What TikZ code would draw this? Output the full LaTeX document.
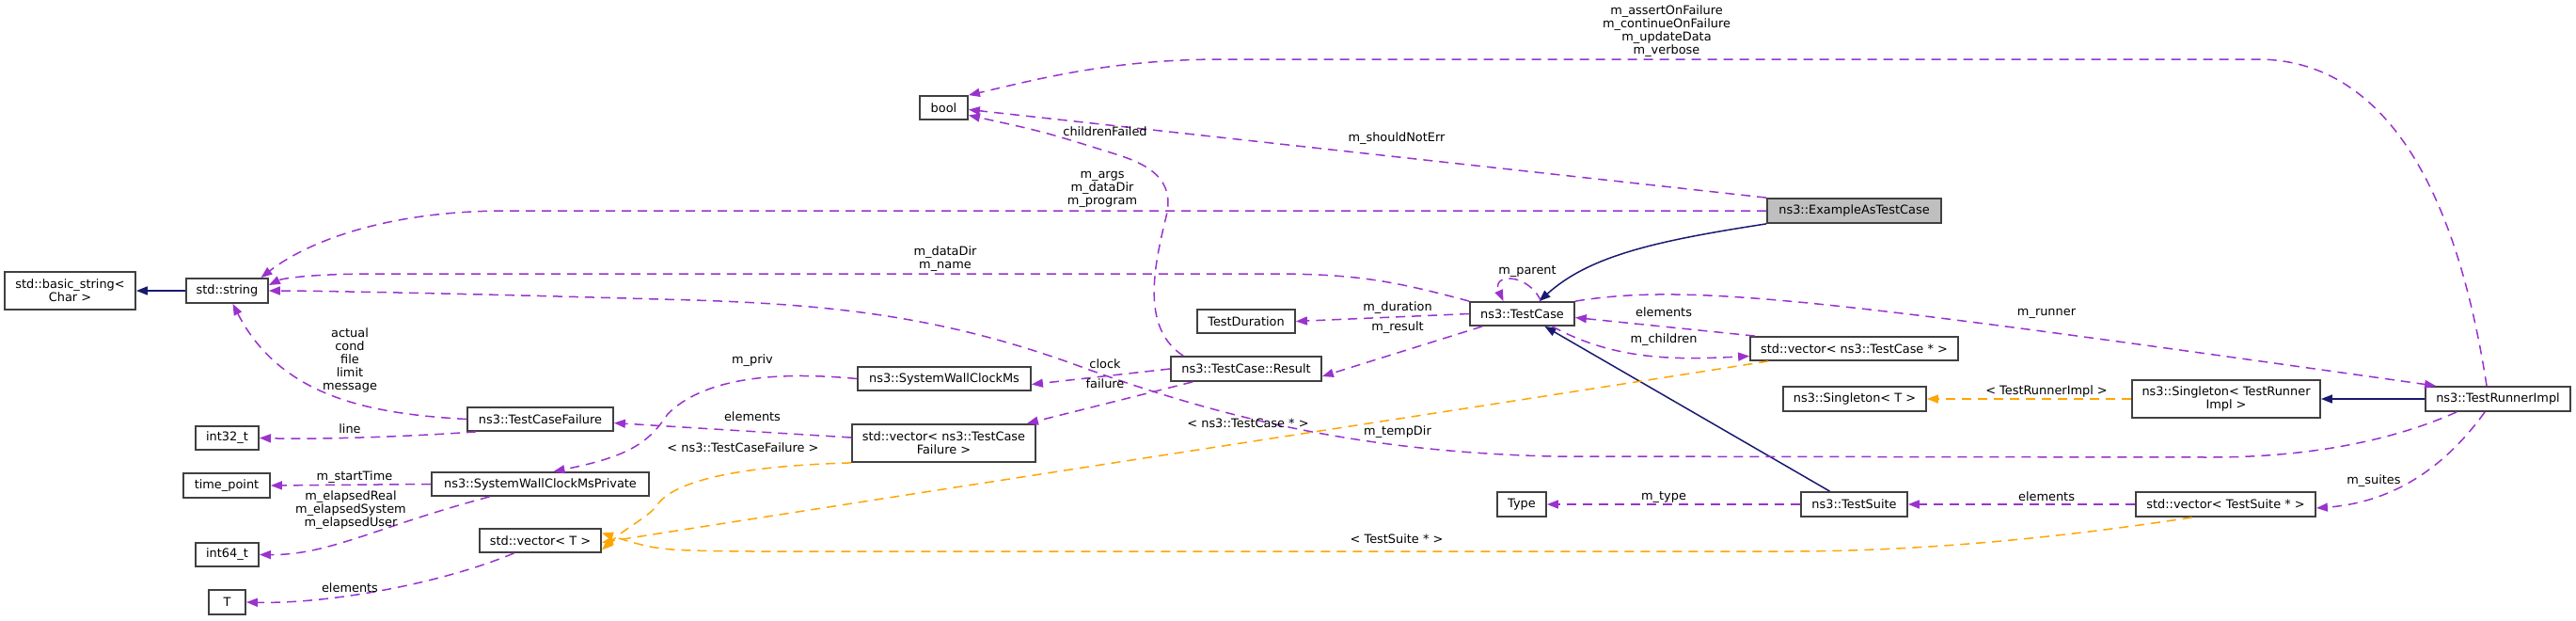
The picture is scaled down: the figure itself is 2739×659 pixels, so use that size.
\documentclass[tikz,border=0pt]{standalone}
\usepackage{fontspec}
\setmainfont{DejaVu Sans}
\usetikzlibrary{arrows.meta}

\definecolor{mem}{HTML}{9A32CD}
\definecolor{tpl}{HTML}{FFA500}
\definecolor{inh}{HTML}{191970}

\tikzset{
  cls/.style={draw=black!75, line width=0.9pt, fill=white, inner sep=0pt, align=center,
    font=\fontsize{6.45}{7}\selectfont},
  lbl/.style={inner sep=0pt, align=center, font=\fontsize{6.45}{7}\selectfont},
  member/.style={draw=mem, line width=0.75pt, dash pattern=on 5pt off 3.5pt,
    -{Triangle[length=6pt,width=4.5pt]}},
  templ/.style={draw=tpl, line width=0.75pt, dash pattern=on 5pt off 3.5pt,
    -{Triangle[length=6pt,width=4.5pt]}},
  inherit/.style={draw=inh, line width=0.75pt, -{Triangle[length=6pt,width=4.5pt]}},
}

\begin{document}
\begin{tikzpicture}[x=0.5pt, y=-0.5pt]

\useasboundingbox (0,0) rectangle (2739,659);

% classes
\node[cls, minimum width=69.5pt, minimum height=20pt] (bstr) at (74.5,309) {std::basic\_string\textless\\Char \textgreater};
\node[cls, minimum width=43.5pt, minimum height=13pt] (str) at (241.5,309) {std::string};
\node[cls, minimum width=33.5pt, minimum height=12.5pt] (i32) at (241.5,465.5) {int32\_t};
\node[cls, minimum width=46pt, minimum height=13pt] (tp) at (241,516) {time\_point};
\node[cls, minimum width=33.5pt, minimum height=12.5pt] (i64) at (241.5,589.5) {int64\_t};
\node[cls, minimum width=19.5pt, minimum height=13pt] (T) at (241.5,640) {T};
\node[cls, minimum width=77.5pt, minimum height=12.5pt] (tcf) at (574.5,445.5) {ns3::TestCaseFailure};
\node[cls, minimum width=115.5pt, minimum height=12.5pt] (swcp) at (574.5,514.5) {ns3::SystemWallClockMsPrivate};
\node[cls, minimum width=64.5pt, minimum height=12.5pt] (vecT) at (574.5,574.5) {std::vector\textless{} T \textgreater};
\node[cls, minimum width=25.5pt, minimum height=12.5pt] (bool) at (1003.5,114.5) {bool};
\node[cls, minimum width=92pt, minimum height=12.5pt] (swc) at (1004,402.5) {ns3::SystemWallClockMs};
\node[cls, minimum width=97.5pt, minimum height=20pt] (vtcf) at (1003.5,471) {std::vector\textless{} ns3::TestCase\\Failure \textgreater};
\node[cls, minimum width=52pt, minimum height=12.5pt] (dur) at (1325,341.5) {TestDuration};
\node[cls, minimum width=80pt, minimum height=13pt] (res) at (1325,392) {ns3::TestCase::Result};
\node[cls, minimum width=55.5pt, minimum height=12.5pt] (tc) at (1618.5,333.5) {ns3::TestCase};
\node[cls, minimum width=26pt, minimum height=13pt] (type) at (1618,536) {Type};
\node[cls, minimum width=92.5pt, minimum height=13pt, fill=black!25] (eatc) at (1971.5,224) {ns3::ExampleAsTestCase};
\node[cls, minimum width=110.5pt, minimum height=12.5pt] (vtc) at (1971.5,370.5) {std::vector\textless{} ns3::TestCase * \textgreater};
\node[cls, minimum width=76pt, minimum height=13pt] (sgT) at (1972,424) {ns3::Singleton\textless{} T \textgreater};
\node[cls, minimum width=56.5pt, minimum height=13pt] (ts) at (1971.5,536) {ns3::TestSuite};
\node[cls, minimum width=100pt, minimum height=20pt] (sgR) at (2367,424) {ns3::Singleton\textless{} TestRunner\\Impl \textgreater};
\node[cls, minimum width=95.5pt, minimum height=13pt] (vts) at (2366.5,536) {std::vector\textless{} TestSuite * \textgreater};
\node[cls, minimum width=77pt, minimum height=13pt] (tri) at (2656,424) {ns3::TestRunnerImpl};

% inheritance
\draw[inherit] (str) -- (bstr);
\draw[inherit] (eatc.south west) .. controls (1760,256) and (1690,272) .. ([xshift=9pt]tc.north);
\draw[inherit] ([xshift=-13pt]ts.north) -- ([xshift=12pt]tc.south);
\draw[inherit] (tri) -- (sgR);

% members
\draw[member] (eatc.west) -- (540,224) .. controls (400,224) and (320,262) .. ([xshift=18pt]str.north);
\draw[member] (tc.north west) .. controls (1480,298) and (1440,291) .. (1350,291) -- (400,291) .. controls (330,291) and (300,296) .. ([yshift=3pt]str.east);
\draw[member] ([xshift=-22pt]tri.south) .. controls (2540,470) and (2450,486) .. (2350,486) -- (1650,485) .. controls (1450,480) and (1300,445) .. (1150,390) .. controls (1000,335) and (880,322) .. (700,318) .. controls (500,312) and (330,309) .. (str.east);
\draw[member] (eatc.north west) -- ([yshift=-1pt]bool.east);
\draw[member] ([xshift=-6pt]tri.north) .. controls (2610,190) and (2530,63) .. (2400,63) -- (1300,63) .. controls (1180,63) and (1100,85) .. (bool.north east);
\draw[member] ([xshift=7pt]res.north west) .. controls (1215,350) and (1225,290) .. (1240,230) .. controls (1250,190) and (1220,175) .. (1190,165) .. controls (1110,140) .. ([yshift=-4pt]bool.east);
\draw[member] (tc.west) -- (dur.east);
\draw[member] ([xshift=7pt]tc.south west) -- ([yshift=-4pt]res.east);
\draw[member] ([xshift=10pt]tc.north) .. controls (1625,290) and (1585,290) .. ([xshift=-10pt]tc.north);
\draw[member] ([xshift=3pt]vtc.north west) -- ([yshift=-2pt]tc.east);
\draw[member] ([xshift=16pt]tc.south) .. controls (1720,385) and (1790,382) .. ([yshift=-4pt]vtc.west);
\draw[member] (tc.north east) .. controls (1800,300) and (1950,320) .. ([xshift=-33pt]tri.north);
\draw[member] (ts.west) -- (type.east);
\draw[member] (vts.west) -- (ts.east);
\draw[member] ([xshift=-7pt]tri.south) .. controls (2590,510) and (2530,535) .. ([yshift=-2pt]vts.east);
\draw[member] (res.west) -- ([yshift=-3pt]swc.east);
\draw[member] ([xshift=12pt]res.south west) -- ([xshift=-5pt]vtcf.north east);
\draw[member] (swc.west) .. controls (800,392) and (740,410) .. (710,440) .. controls (690,470) and (670,485) .. ([xshift=7pt]swcp.north);
\draw[member] ([yshift=3pt]vtcf.west) -- ([yshift=-2pt]tcf.east);
\draw[member] (tcf.west) .. controls (400,440) and (300,425) .. ([xshift=3pt]str.south);
\draw[member] ([xshift=5pt]tcf.south west) .. controls (420,465) and (330,467) .. (i32.east);
\draw[member] (swcp.west) -- (tp.east);
\draw[member] ([xshift=-27pt]swcp.south) .. controls (400,560) and (350,590) .. (i64.east);
\draw[member] ([xshift=-14pt]vecT.south) .. controls (470,620) and (350,642) .. (T.east);

% templates
\draw[templ] (vtcf.south west) .. controls (790,495) and (720,510) .. (700,535) .. controls (690,550) and (670,557) .. ([yshift=-5pt]vecT.east);
\draw[templ] ([xshift=10pt]vtc.south west) .. controls (1600,428) and (1000,520) .. ([yshift=-1pt]vecT.east);
\draw[templ] ([xshift=-18pt]vts.south) .. controls (2200,570) and (2050,586) .. (1900,586) -- (800,586) .. controls (700,585) .. ([yshift=4pt]vecT.east);
\draw[templ] (sgR.west) -- (sgT.east);

% labels
\node[lbl] (lArgs) at (1172,201) {m\_args\\m\_dataDir\\m\_program};
\node[lbl] (lName) at (1005,275) {m\_dataDir\\m\_name};
\node[lbl] (lTemp) at (1486,459) {m\_tempDir};
\node[lbl] (lErr) at (1485,147) {m\_shouldNotErr};
\node[lbl] (lFlags) at (1772,33) {m\_assertOnFailure\\m\_continueOnFailure\\m\_updateData\\m\_verbose};
\node[lbl] (lFail) at (1175,140) {childrenFailed};
\node[lbl] (lDur) at (1486,327) {m\_duration};
\node[lbl] (lRes) at (1486,348) {m\_result};
\node[lbl] (lPar) at (1624,288) {m\_parent};
\node[lbl] (lElTc) at (1769,332) {elements};
\node[lbl] (lChild) at (1769,361) {m\_children};
\node[lbl] (lRun) at (2176,333) {m\_runner};
\node[lbl] (lType) at (1769,528) {m\_type};
\node[lbl] (lElTs) at (2176,528) {elements};
\node[lbl] (lSuit) at (2524,511) {m\_suites};
\node[lbl] (lClk) at (1175,387) {clock};
\node[lbl] (lFlr) at (1175,408) {failure};
\node[lbl] (lPriv) at (800,383) {m\_priv};
\node[lbl] (lElTcf) at (800,443) {elements};
\node[lbl] (lStr) at (372,383) {actual\\cond\\file\\limit\\message};
\node[lbl] (lLine) at (372,456) {line};
\node[lbl] (lStart) at (377,507) {m\_startTime};
\node[lbl] (lElap) at (373,542) {m\_elapsedReal\\m\_elapsedSystem\\m\_elapsedUser};
\node[lbl] (lElT) at (372,625) {elements};
\node[lbl] (lTcf) at (790,476) {\textless{} ns3::TestCaseFailure \textgreater};
\node[lbl] (lTc) at (1327,450) {\textless{} ns3::TestCase * \textgreater};
\node[lbl] (lTs) at (1485,573) {\textless{} TestSuite * \textgreater};
\node[lbl] (lTri) at (2176,416) {\textless{} TestRunnerImpl \textgreater};

\end{tikzpicture}
\end{document}
